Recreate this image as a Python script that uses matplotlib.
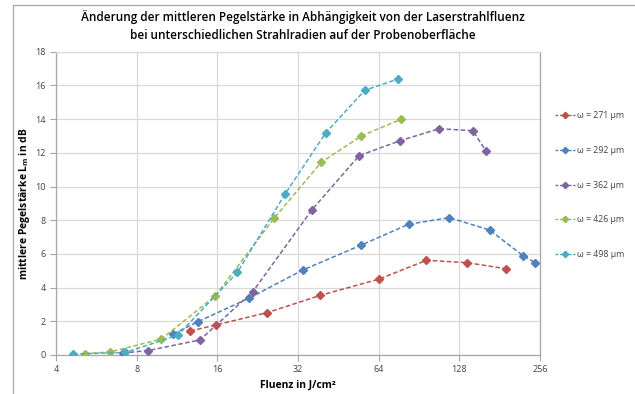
import matplotlib
matplotlib.use("Agg")
import matplotlib.pyplot as plt
from matplotlib.ticker import FixedLocator, FixedFormatter, NullLocator
from matplotlib.lines import Line2D

plt.rcParams['font.family'] = ['Open Sans', 'DejaVu Sans']

labels = ["ω = 271 µm", "ω = 292 µm", "ω = 362 µm", "ω = 426 µm", "ω = 498 µm"]
colors = ["#C0504D", "#4F81BD", "#8064A2", "#9BBB59", "#4BACC6"]

red_F = [12.7, 15.75, 24.5, 38.8, 64.4, 96.4, 136.8, 191]
red_L = [1.42, 1.78, 2.51, 3.54, 4.51, 5.62, 5.48, 5.12]

blue_F = [10.95, 13.55, 21.0, 33.4, 55.2, 82.8, 117.5, 166, 221, 246]
blue_L = [1.25, 1.98, 3.37, 5.05, 6.53, 7.76, 8.15, 7.42, 5.9, 5.48]

purple_F = [7.1, 8.8, 13.77, 21.7, 36.0, 54.1, 77, 107.7, 143.9, 161]
purple_L = [0.12, 0.26, 0.89, 3.76, 8.6, 11.83, 12.72, 13.43, 13.31, 12.1]

green_F = [5.13, 6.36, 9.9, 15.7, 26.1, 39.1, 55.2, 77.6]
green_L = [0.08, 0.18, 0.95, 3.5, 8.13, 11.44, 13.0, 13.99]

cyan_F = [4.64, 7.23, 11.4, 19.0, 28.6, 40.6, 56.8, 75.6]
cyan_L = [0.06, 0.15, 1.17, 4.9, 9.54, 13.18, 15.71, 16.38]

x_ticks = [4, 8, 16, 32, 64, 128, 256]
y_ticks = [0, 2, 4, 6, 8, 10, 12, 14, 16, 18]

series = [(red_F, red_L), (blue_F, blue_L), (purple_F, purple_L),
          (green_F, green_L), (cyan_F, cyan_L)]

W, H = 635, 394
fig = plt.figure(figsize=(W / 100, H / 100), dpi=100)
ax = fig.add_axes([56 / W, 1 - 355 / H, (540 - 56) / W, (355 - 51.7) / H])

for (F, L), c, lab in zip(series, colors, labels):
    ax.plot(F, L, color=c, lw=1.1, ls=(0, (3, 1.6)), marker='D', ms=4.0,
            mfc=c, mec=c, label=lab, zorder=3)

ax.set_xscale('log', base=2)
ax.set_xlim(4, 256)
ax.set_ylim(0, 18)
ax.xaxis.set_major_locator(FixedLocator(x_ticks))
ax.xaxis.set_major_formatter(FixedFormatter([str(t) for t in x_ticks]))
ax.xaxis.set_minor_locator(NullLocator())
ax.set_yticks(y_ticks)
ax.grid(True, color='#D9D9D9', lw=0.9, zorder=0)
ax.set_axisbelow(True)
for s in ax.spines.values():
    s.set_color('#A6A6A6')
    s.set_linewidth(0.9)
ax.spines['top'].set_color('#D9D9D9')
ax.tick_params(axis='both', colors='#A6A6A6', labelcolor='#404040',
               labelsize=6.5, length=4, width=0.8)

ax.set_xlabel("Fluenz in J/cm²", fontsize=7.5, fontweight='bold',
              color='#000000', labelpad=4)
ax.set_ylabel("mittlere Pegelstärke L$_\\mathregular{m}$ in dB", fontsize=7.5,
              fontweight='bold', color='#000000', labelpad=2)

fig.text(303 / W, 1 - 26 / H,
         "Änderung der mittleren Pegelstärke in Abhängigkeit von der Laserstrahlfluenz\n"
         "bei unterschiedlichen Strahlradien auf der Probenoberfläche",
         ha='center', va='center', fontsize=8.5, fontweight='semibold',
         linespacing=1.5)

handles = [Line2D([0], [0], color=c, lw=1.0, ls=(0, (2, 1.2)), marker='D',
                  ms=3.2, mfc=c, mec=c) for c in colors]
leg = fig.legend(handles, labels, loc='upper left',
                 bbox_to_anchor=(551 / W, 1 - 108 / H), frameon=False,
                 fontsize=6.3, labelspacing=2.93, handlelength=2.3,
                 handletextpad=0.3, borderaxespad=0)
for t in leg.get_texts():
    t.set_color('#404040')

# outer chart border (left and top)
fig.add_artist(Line2D([13 / W, 13 / W], [0, 1 - 5 / H], transform=fig.transFigure,
                      color='#A6A6A6', lw=0.9))
fig.add_artist(Line2D([13 / W, 1], [1 - 5 / H, 1 - 5 / H], transform=fig.transFigure,
                      color='#A6A6A6', lw=0.9))

fig.savefig("out.png", dpi=100)
